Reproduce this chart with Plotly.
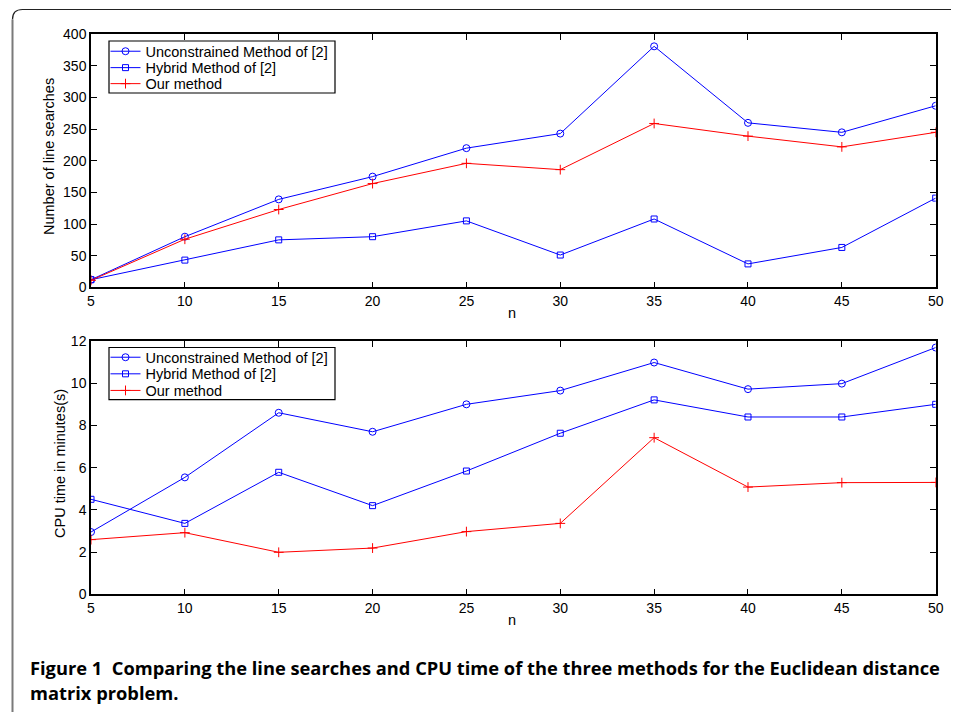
import plotly.graph_objects as go

# The page body has an 8px margin; lay the figure out in reference pixel
# coordinates and shift by that offset.
REF_W, REF_H = 959, 712
OFF = 8
W, H = REF_W - OFF, REF_H - OFF

n_values = [5, 10, 15, 20, 25, 30, 35, 40, 45, 50]
series_names = ["Unconstrained Method of [2]", "Hybrid Method of [2]", "Our method"]

# Number of line searches
ls_unconstrained = [12, 80, 139, 175, 220, 243, 381, 260, 245, 287]
ls_hybrid = [12, 43, 75, 80, 105, 51, 108, 37, 63, 141]
ls_ours = [11, 76, 123, 164, 196, 186, 259, 239, 222, 245]

# CPU time in minutes
cpu_unconstrained = [2.95, 5.54, 8.6, 7.7, 9.0, 9.65, 10.98, 9.72, 9.98, 11.69]
cpu_hybrid = [4.5, 3.36, 5.78, 4.2, 5.84, 7.63, 9.21, 8.4, 8.4, 9.0]
cpu_ours = [2.59, 2.92, 1.99, 2.19, 2.97, 3.36, 7.42, 5.08, 5.29, 5.3]

top_ticks = list(range(0, 401, 50))
bottom_ticks = list(range(0, 13, 2))

caption_line1 = "Figure 1\u00a0\u00a0Comparing the line searches and CPU time of the three methods for the Euclidean distance"
caption_line2 = "matrix problem."

BLUE = "rgb(0,0,255)"
RED = "rgb(255,0,0)"
FONT = "Liberation Sans, Arial, Helvetica, sans-serif"


def px(x):
    return (x - OFF) / W


def py(y):
    return 1 - (y - OFF) / H


styles = [
    dict(color=BLUE, symbol="circle-open", size=7),
    dict(color=BLUE, symbol="square-open", size=6),
    dict(color=RED, symbol="cross-thin-open", size=7),
]

fig = go.Figure()

legend_ids = [["legend", "legend2", "legend3"], ["legend4", "legend5", "legend6"]]

for data, axis_x, axis_y, legs in [
    ([ls_unconstrained, ls_hybrid, ls_ours], "x", "y", legend_ids[0]),
    ([cpu_unconstrained, cpu_hybrid, cpu_ours], "x2", "y2", legend_ids[1]),
]:
    for name, ys, st, leg in zip(series_names, data, styles, legs):
        fig.add_trace(go.Scatter(
            x=n_values, y=ys, name=name, mode="lines+markers",
            xaxis=axis_x, yaxis=axis_y, legend=leg,
            line=dict(color=st["color"], width=1),
            marker=dict(symbol=st["symbol"], size=st["size"], color=st["color"],
                        line=dict(color=st["color"], width=1)),
        ))

x_dom = [px(91), px(935.7)]
axis_common = dict(showline=True, linecolor="black", linewidth=1.5, mirror="ticks",
                   ticks="inside", ticklen=6, tickcolor="black", tickwidth=1, showgrid=False,
                   zeroline=False, automargin=False,
                   tickfont=dict(family=FONT, size=14, color="black"))

layout_legends = {}
item_centers = [[51.2, 67.6, 83.6], [357.2, 373.8, 390.4]]
for ids, centers in zip(legend_ids, item_centers):
    for lid, cy in zip(ids, centers):
        layout_legends[lid] = dict(
            x=px(105.5), y=py(cy - 15.9), xanchor="left", yanchor="top",
            borderwidth=0, bgcolor="rgba(0,0,0,0)",
            font=dict(family=FONT, size=14.5, color="black"))

fig.update_layout(
    template="none",
    width=W, height=H,
    margin=dict(l=0, r=0, t=0, b=0, pad=0, autoexpand=False),
    paper_bgcolor="white", plot_bgcolor="white",
    font=dict(family=FONT, size=14, color="black"),
    xaxis=dict(domain=x_dom, anchor="y", range=[5, 50], tickvals=n_values, **axis_common),
    yaxis=dict(domain=[py(287.3), py(34.3)], anchor="x", range=[0, 400], tickvals=top_ticks, **axis_common),
    xaxis2=dict(domain=x_dom, anchor="y2", range=[5, 50], tickvals=n_values, **axis_common),
    yaxis2=dict(domain=[py(594.3), py(341)], anchor="x2", range=[0, 12], tickvals=bottom_ticks, **axis_common),
    showlegend=True,
    **layout_legends,
)

label_font = dict(family=FONT, size=14.5, color="black")
annotations = [
    dict(text="Number of line searches", x=px(49), y=py(157), textangle=-90, font=label_font),
    dict(text="n", x=px(512), y=py(313), font=label_font),
    dict(text="CPU time in minutes(s)", x=px(60), y=py(464), textangle=-90, font=label_font),
    dict(text="n", x=px(512), y=py(620), font=label_font),
]
for a in annotations:
    a.update(xref="paper", yref="paper", showarrow=False, xanchor="center", yanchor="middle")

cap_font = dict(family="Open Sans, sans-serif", size=18.3, color="black", weight="bold")
annotations += [
    dict(text="<b>" + caption_line1 + "</b>", x=px(28), y=py(667.5), xref="paper", yref="paper",
         showarrow=False, xanchor="left", yanchor="middle", font=cap_font),
    dict(text="<b>" + caption_line2 + "</b>", x=px(28), y=py(692), xref="paper", yref="paper",
         showarrow=False, xanchor="left", yanchor="middle", font=cap_font),
]
fig.update_layout(annotations=annotations)

# Rounded panel frame and legend boxes
r = 10
top_path = f"M {px(REF_W + 2)} {py(9.5)} L {px(12.5 + r)} {py(9.5)} Q {px(12.5)} {py(9.5)} {px(12.5)} {py(9.5 + r)}"
left_path = f"M {px(12.5)} {py(9.5 + r)} L {px(12.5)} {py(REF_H + 2)}"
shapes = [
    dict(type="path", path=top_path, xref="paper", yref="paper", line=dict(color="#222", width=1.2)),
    dict(type="path", path=left_path, xref="paper", yref="paper", line=dict(color="#7a7a7a", width=2)),
]
for top, bottom in [(41, 93), (347.5, 399.7)]:
    shapes.append(dict(type="rect", xref="paper", yref="paper", layer="above",
                       x0=px(109), x1=px(335), y0=py(bottom), y1=py(top),
                       line=dict(color="black", width=1.2), fillcolor="white"))
fig.update_layout(shapes=shapes)

fig.write_html("out.html")
